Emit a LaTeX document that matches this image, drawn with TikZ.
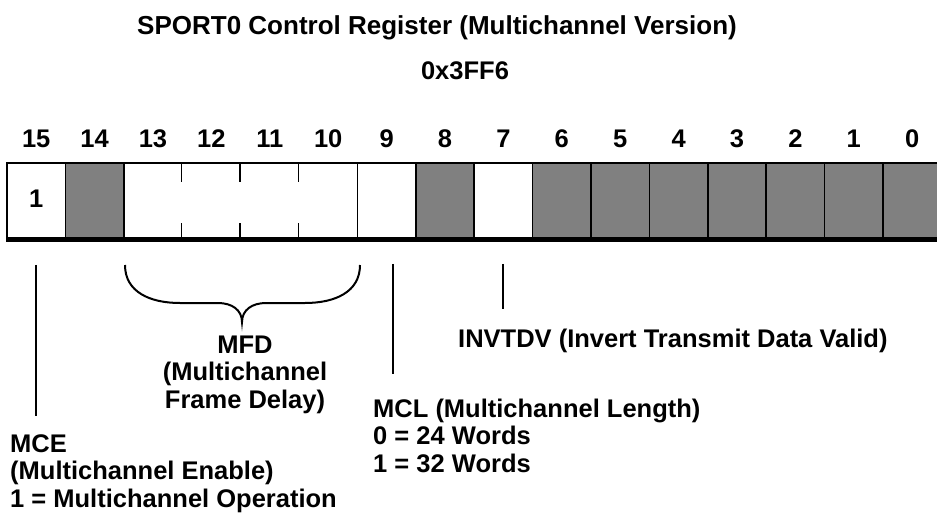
\documentclass[tikz,border=0pt]{standalone}
\usepackage{fontspec}
\setmainfont{Liberation Sans}
\usepackage{xcolor}
\usetikzlibrary{positioning}
\definecolor{regGray}{HTML}{808080}

\begin{document}
\begin{tikzpicture}[x=1pt, y=-1pt,
  every node/.style={font=\fontsize{25.5}{27.5}\selectfont\bfseries, inner sep=0pt},
  cell/.style={draw, line width=1.5pt, minimum width=58.4pt, minimum height=75pt},
  lead/.style={line width=2pt},
  desc/.style={align=left, anchor=base west}]
\useasboundingbox (0,0) rectangle (937,519);

\node[font=\fontsize{26}{30}\selectfont\bfseries, anchor=base] (title) at (437,35) {SPORT0 Control Register (Multichannel Version)};
\node[anchor=base] (addr) at (465,80) {0x3FF6};

\foreach \b in {0,...,15}
  \node[anchor=base] (n\b) at ({36.2+(15-\b)*58.4},147) {\b};

\foreach \b/\f in {15/white,14/regGray,9/white,8/regGray,7/white,6/regGray,5/regGray,4/regGray,3/regGray,2/regGray,1/regGray,0/regGray}
  \node[cell, fill=\f] (c\b) at ({36.2+(15-\b)*58.4},200.5) {};
\node[cell, minimum width=233.6pt] (mfdcell) at ({36.2+3.5*58.4},200.5) {};
\foreach \k in {1,2,3}
  \draw[line width=1.5pt] ([xshift=\k*58.4pt]mfdcell.north west) -- ++(0,20)
    ([xshift=\k*58.4pt]mfdcell.south west) -- ++(0,-16);
\draw[line width=3.5pt] ([yshift=-1.5pt]c15.south west) -- ([yshift=-1.5pt]c0.south east);

\node[anchor=base] (mceval) at ([yshift=-7pt]c15.center) {1};

\draw[lead] ([yshift=-26pt]c15.south) -- ([yshift=-177pt]c15.south);
\draw[lead] ([xshift=6.5pt,yshift=-25pt]c9.south) -- ([xshift=6.5pt,yshift=-135pt]c9.south);
\draw[lead] ([yshift=-25pt]c7.south) -- ([yshift=-70pt]c7.south);
\draw[lead] (125,265) .. controls (125,292) and (150,303) .. (180,303) -- (218,303)
  .. controls (232,303) and (242,310) .. (242,322)
  .. controls (242,310) and (252,303) .. (266,303) -- (305,303)
  .. controls (335,303) and (360,292) .. (360,265);

\node[align=center, anchor=base] (mfd) at (245,408) {MFD\\(Multichannel\\Frame Delay)};
\node[desc] (mce) at (10,507) {MCE\\(Multichannel Enable)\\1 = Multichannel Operation};
\node[desc] (mcl) at (373,472) {MCL (Multichannel Length)\\0 = 24 Words\\1 = 32 Words};
\node[desc] (invtdv) at (458,347) {INVTDV (Invert Transmit Data Valid)};
\end{tikzpicture}
\end{document}
